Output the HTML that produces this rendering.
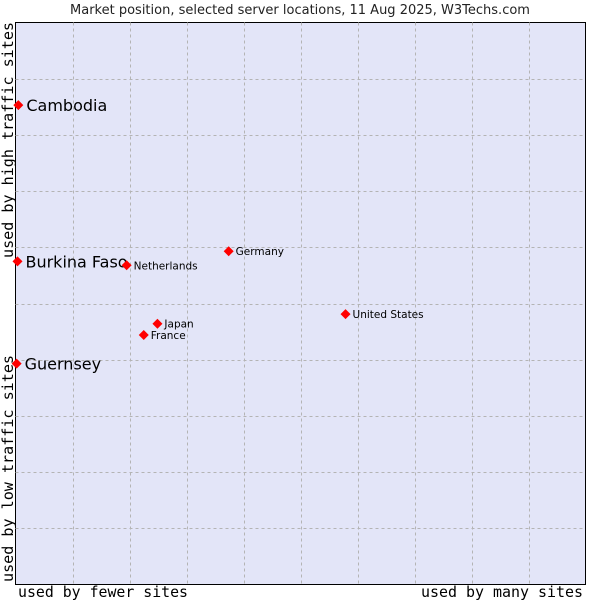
<!DOCTYPE html>
<html><head><meta charset="utf-8"><style>
body{margin:0;background:#fff;}
svg text{font-family:"DejaVu Sans","Liberation Sans",sans-serif;}
.mono{font-family:"DejaVu Sans Mono","Liberation Mono",monospace;}
</style></head><body>
<svg id="chart" width="600" height="600">
<text x="300" y="14" text-anchor="middle" font-size="13" fill="#222">Market position, selected server locations, 11 Aug 2025, W3Techs.com</text>
<rect x="15.5" y="22.5" width="570" height="562" fill="#e3e5f8" stroke="#000"/>
<g id="grid"></g>
<g id="points"></g>
<text class="mono" x="18" y="597" font-size="15" textLength="170" lengthAdjust="spacingAndGlyphs" fill="#000">used by fewer sites</text>
<text class="mono" x="421" y="597" font-size="15" textLength="162" lengthAdjust="spacingAndGlyphs" fill="#000">used by many sites</text>
<text class="mono" transform="translate(13,582) rotate(-90)" font-size="15" textLength="227" lengthAdjust="spacingAndGlyphs" fill="#000">used by low traffic sites</text>
<text class="mono" transform="translate(13,258) rotate(-90)" font-size="15" textLength="236" lengthAdjust="spacingAndGlyphs" fill="#000">used by high traffic sites</text>
</svg>
<script>
const countries=["Cambodia","Burkina Faso","Guernsey","Netherlands","Germany","United States","Japan","France"];
const xValues=[0.5,0.35,0.2,19.5,37.4,57.9,24.9,22.5];
const yValues=[85.3,57.5,39.3,56.8,59.3,48.1,46.4,44.4];
const bigLabel=[true,true,true,false,false,false,false,false];
const L=15.5,T=22.5,W=570,H=562;
const sx=v=>L+v/100*W, sy=v=>T+H-v/100*H;
const NS="http://www.w3.org/2000/svg";
const g=document.getElementById('grid');
for(let i=1;i<10;i++){
 const x=Math.round(L+i*57)+0.5;
 const l=document.createElementNS(NS,'line');
 l.setAttribute('x1',x);l.setAttribute('x2',x);l.setAttribute('y1',T);l.setAttribute('y2',T+H);
 l.setAttribute('stroke','#b4b4b4');l.setAttribute('stroke-dasharray','3,3');
 
 
 g.appendChild(l);
 const y=Math.round(T+i*H/10)+0.5;
 const h=document.createElementNS(NS,'line');
 h.setAttribute('x1',L);h.setAttribute('x2',L+W);h.setAttribute('y1',y);h.setAttribute('y2',y);
 h.setAttribute('stroke','#b4b4b4');h.setAttribute('stroke-dasharray','3,3');
 
 
 g.appendChild(h);
}
const p=document.getElementById('points');
countries.forEach((c,i)=>{
 const x=sx(xValues[i]),y=sy(yValues[i]);
 const d=document.createElementNS(NS,'path');
 d.setAttribute('d',`M${x-5},${y}L${x},${y-5}L${x+5},${y}L${x},${y+5}Z`);
 d.setAttribute('fill','#f00');
 
 
 p.appendChild(d);
 const t=document.createElementNS(NS,'text');
 t.setAttribute('x',x+(bigLabel[i]?8:7));
 t.setAttribute('y',y+(bigLabel[i]?6:4));
 t.setAttribute('font-size',bigLabel[i]?16:10.5);
 t.setAttribute('fill','#000');
 t.textContent=c;
 
 
 p.appendChild(t);
});
</script>
</body></html>
